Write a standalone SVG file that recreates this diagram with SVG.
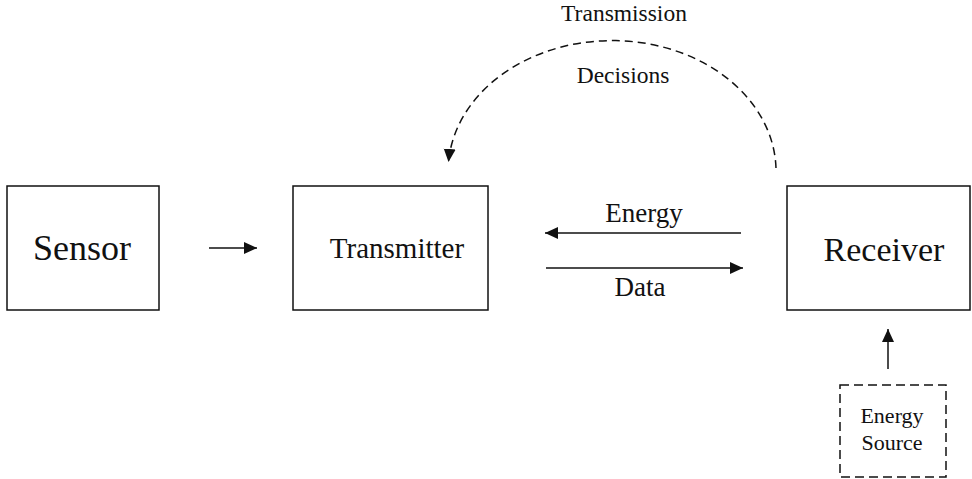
<svg xmlns="http://www.w3.org/2000/svg" width="972" height="479" viewBox="0 0 972 479">
<style>
.box{fill:#fff;stroke:#111;stroke-width:1.5}
.dbox{fill:#fff;stroke:#111;stroke-width:1.5;stroke-dasharray:9 5}
.ln{fill:none;stroke:#111;stroke-width:1.5}
.dl{fill:none;stroke:#111;stroke-width:1.5;stroke-dasharray:8 5}
text{font-family:"Liberation Serif","Times New Roman",serif;fill:#111;text-anchor:middle}
</style>
<defs>
<marker id="ah" markerUnits="userSpaceOnUse" markerWidth="14" markerHeight="13" refX="13" refY="6" orient="auto">
<path d="M0,0 L13,6 L0,12 z" fill="#111"/>
</marker>
</defs>
<rect width="972" height="479" fill="#fff"/>
<g id="sensor">
<rect class="box" x="7" y="186" width="152" height="124"/>
<text x="82" y="260" font-size="36">Sensor</text>
</g>
<g id="transmitter">
<rect class="box" x="293" y="186" width="195" height="124"/>
<text x="397" y="258" font-size="29">Transmitter</text>
</g>
<g id="receiver">
<rect class="box" x="787" y="186" width="183" height="124"/>
<text x="884" y="261" font-size="34">Receiver</text>
</g>
<g id="energy-source">
<rect class="dbox" x="840" y="385" width="106" height="92"/>
<text x="892" y="423" font-size="22">Energy</text>
<text x="892" y="450" font-size="22">Source</text>
</g>
<g id="connectors">
<line class="ln" x1="209" y1="248" x2="257" y2="248" marker-end="url(#ah)"/>
<line class="ln" x1="741" y1="233" x2="545" y2="233" marker-end="url(#ah)"/>
<line class="ln" x1="546" y1="268" x2="743" y2="268" marker-end="url(#ah)"/>
<line class="ln" x1="888" y1="369" x2="888" y2="329" marker-end="url(#ah)"/>
<path class="dl" d="M 776 168 A 164 131 0 0 0 448.5 162" marker-end="url(#ah)"/>
<text x="624" y="21" font-size="23.5">Transmission</text>
<text x="623" y="83" font-size="23.5">Decisions</text>
<text x="644" y="222" font-size="27">Energy</text>
<text x="640" y="296" font-size="27">Data</text>
</g>
</svg>
